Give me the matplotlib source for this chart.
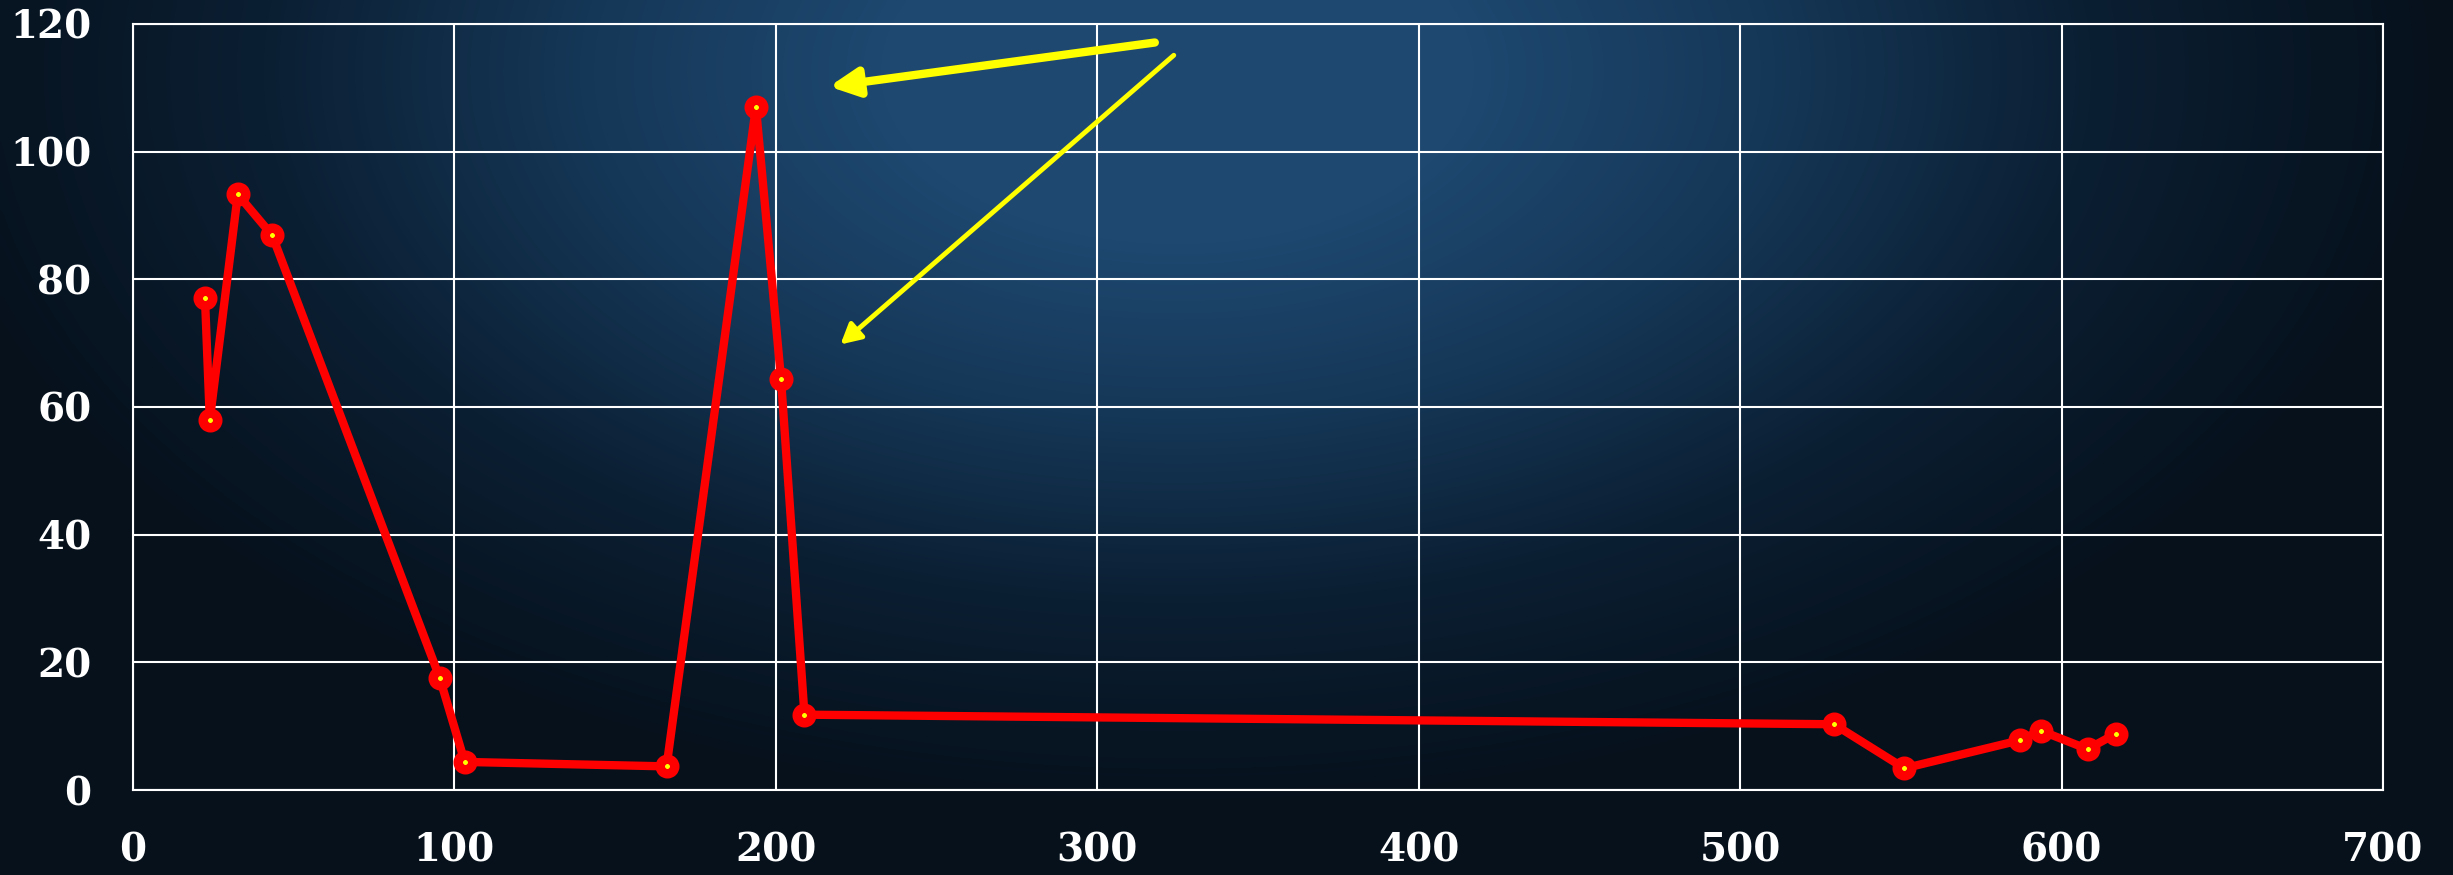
import numpy as np
import matplotlib
matplotlib.use("Agg")
import matplotlib.pyplot as plt
from matplotlib.colors import LinearSegmentedColormap

# Measured series
x_vals = [22.4, 23.9, 32.6, 43.3, 95.4, 103.2, 166.0, 193.8, 201.6, 208.9,
          529.2, 551.1, 587.1, 593.5, 608.1, 616.8]
y_vals = [77.0, 58.0, 93.3, 86.9, 17.6, 4.4, 3.7, 107.0, 64.4, 11.8,
          10.3, 3.4, 7.8, 9.3, 6.4, 8.8]

x_ticks = [0, 100, 200, 300, 400, 500, 600, 700]
y_ticks = [0, 20, 40, 60, 80, 100, 120]

W, H, DPI = 2453, 875, 100
fig = plt.figure(figsize=(W / DPI, H / DPI), dpi=DPI)

# Backdrop: dark navy with a lighter blue glow toward the upper middle
bg = fig.add_axes([0, 0, 1, 1], zorder=0)
gx, gy = np.meshgrid(np.linspace(0, 1, 600), np.linspace(0, 1, 220))
dist = np.sqrt(((gx - 0.48) / 0.52) ** 2 + ((gy - 0.92) / 0.85) ** 2)
glow = np.clip(1 - dist, 0, 1) ** 1.1
cmap = LinearSegmentedColormap.from_list(
    "navy", ["#06111c", "#0b1f33", "#153757", "#1e4870"])
bg.imshow(glow, cmap=cmap, origin="lower", aspect="auto", extent=[0, 1, 0, 1],
          interpolation="bicubic", vmin=0, vmax=0.75)
bg.set_axis_off()

ax = fig.add_axes([133 / W, 1 - 790 / H, (2383 - 133) / W, (790 - 24) / H], zorder=1)
ax.set_facecolor("none")

ax.plot(x_vals, y_vals, color="#ff0000", lw=6, marker="o", ms=10.5,
        mfc="#ffff00", mec="#ff0000", mew=6.8, zorder=3, solid_joinstyle="round")

# Pointer arrows toward the peak
ax.annotate("", xy=(216.6, 110.2), xytext=(317.9, 117.1),
            arrowprops=dict(arrowstyle="-|>,head_width=0.42,head_length=0.85",
                            mutation_scale=20, color="#ffff00", lw=6,
                            shrinkA=0, shrinkB=0), zorder=4)
ax.annotate("", xy=(220.1, 69.8), xytext=(323.8, 115.1),
            arrowprops=dict(arrowstyle="-|>,head_width=0.32,head_length=0.6",
                            mutation_scale=20, color="#ffff00", lw=3.5,
                            shrinkA=0, shrinkB=0), zorder=4)

ax.set_xlim(0, 700)
ax.set_ylim(0, 120)
ax.set_xticks(x_ticks)
ax.set_yticks(y_ticks)
ax.grid(True, color="white", lw=1.5)
ax.set_axisbelow(True)
for s in ax.spines.values():
    s.set_color("white")
    s.set_linewidth(1.5)

ax.tick_params(axis="both", length=0, colors="white")
ax.tick_params(axis="y", pad=30)
ax.tick_params(axis="x", pad=30)
for lab in ax.get_xticklabels() + ax.get_yticklabels():
    lab.set_fontfamily(["DejaVu Serif"])
    lab.set_fontweight("bold")
    lab.set_fontsize(28)
    lab.set_color("white")

fig.savefig("out.png", dpi=DPI)
